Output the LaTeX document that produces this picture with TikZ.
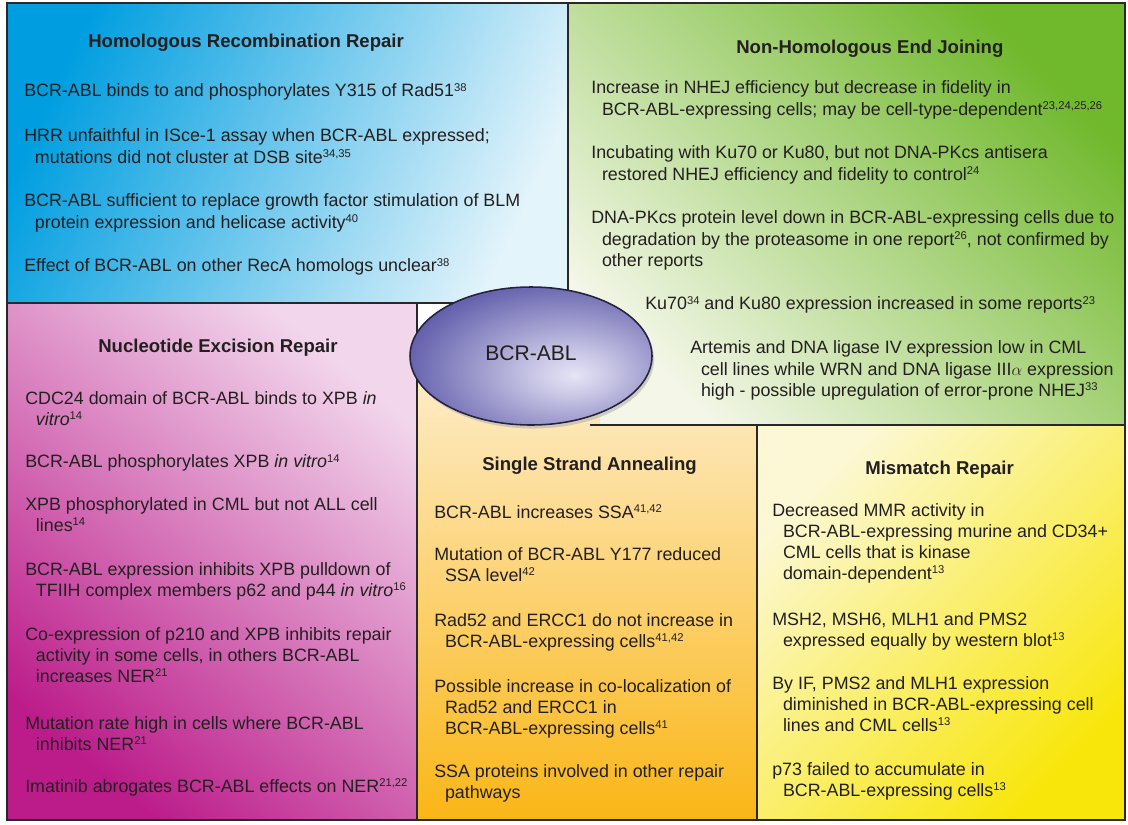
\documentclass[tikz,border=0pt]{standalone}
\usepackage{fontspec}
\setmainfont{Liberation Sans}
\usetikzlibrary{shadows}

\newcommand{\itemfont}{\fontsize{12.7pt}{14.94pt}\selectfont}
\newcommand{\headfont}{\fontsize{13.2pt}{15.5pt}\selectfont\bfseries}
\newcommand{\bcrfont}{\fontsize{15pt}{18pt}\selectfont}
\newcommand{\refsup}[1]{\raisebox{0.3em}{\fontsize{8pt}{8pt}\selectfont #1}}
\newcommand{\indnt}{\hspace*{0.6em}}
\pgfdeclareradialshading[bcrDark,bcrLight]{bcrglow}{\pgfpoint{9bp}{-7bp}}{%
  color(0bp)=(bcrLight); color(8bp)=(bcrLight!80!bcrDark); color(36bp)=(bcrDark); color(100bp)=(bcrDark)}

\begin{document}
\begin{tikzpicture}[x=0.025cm, y=-0.025cm,
  headlbl/.style={font=\headfont, text=inkDark, anchor=base west, inner sep=0pt},
  itemlbl/.style={font=\itemfont, text=inkDark, align=left, anchor=north west, inner sep=0pt},
  boxline/.style={line width=1.4pt, draw=lineDark},
  bcrshape/.style={draw=bcrEdge, line width=1.1pt, shade, shading=bcrglow,
    drop shadow={shadow xshift=1.5pt, shadow yshift=-2.5pt, fill=black!30, opacity=0.6}},
]

%% ── Colours ──────────────────────────────────────────────────────────────────
\definecolor{hrrDark}{RGB}{0,158,224}
\definecolor{hrrLight}{RGB}{228,244,251}
\definecolor{nhejDark}{RGB}{112,184,44}
\definecolor{nhejLight}{RGB}{244,247,232}
\definecolor{nerDark}{RGB}{188,28,138}
\definecolor{nerLight}{RGB}{242,214,236}
\definecolor{ssaLight}{RGB}{254,238,206}
\definecolor{ssaDark}{RGB}{250,182,22}
\definecolor{mmrLight}{RGB}{252,248,214}
\definecolor{mmrDark}{RGB}{248,230,10}
\definecolor{bcrDark}{RGB}{84,80,164}
\definecolor{bcrLight}{RGB}{230,228,246}
\definecolor{bcrEdge}{RGB}{36,34,60}
\definecolor{inkDark}{RGB}{35,31,32}
\definecolor{lineDark}{RGB}{40,40,40}

\useasboundingbox (0,0) rectangle (1128,824);

%% ── Panels ───────────────────────────────────────────────────────────────────
\shade[top color=hrrDark, bottom color=hrrLight, shading angle=65] (7,3) rectangle (568,303);
\shade[top color=nhejDark, bottom color=nhejLight, shading angle=-45] (568,3) rectangle (1125,425);
\shade[top color=nerLight, bottom color=nerDark, shading angle=-40] (7,303) rectangle (417,820);
\shade[top color=ssaLight, bottom color=ssaDark] (417,360) -- (600,360) -- (600,425) -- (757,425)
  -- (757,820) -- (417,820) -- cycle;
\shade[top color=mmrLight, bottom color=mmrDark, shading angle=45] (757,425) rectangle (1125,820);

%% ── Panel dividers ───────────────────────────────────────────────────────────
\draw[boxline] (568,3) -- (568,303);
\draw[boxline] (7,303) -- (568,303);
\draw[boxline] (417,303) -- (417,820);
\draw[boxline] (590,425) -- (1125,425);
\draw[boxline] (757,425) -- (757,820);
\draw[line width=2.1pt, draw=lineDark] (7,3) rectangle (1125,820);

%% ── Centre ellipse ───────────────────────────────────────────────────────────
\path[bcrshape] (531,356) ellipse [x radius=121, y radius=69];
\node[font=\bcrfont, text=inkDark] (bcr) at (531,353) {BCR-ABL};

%% ── Homologous Recombination Repair ──────────────────────────────────────────
\node[headlbl] (hrrHead) at (88,47) {Homologous Recombination Repair};
\node[itemlbl] (hrrA) at (24,82) {\strut BCR-ABL binds to and phosphorylates Y315 of Rad51\refsup{38}};
\node[itemlbl] (hrrB) at (24,127) {\strut HRR unfaithful in ISce-1 assay when BCR-ABL expressed;\\
  \indnt mutations did not cluster at DSB site\refsup{34,35}};
\node[itemlbl] (hrrC) at (24,192) {\strut BCR-ABL sufficient to replace growth factor stimulation of BLM\\
  \indnt protein expression and helicase activity\refsup{40}};
\node[itemlbl] (hrrD) at (24,257) {\strut Effect of BCR-ABL on other RecA homologs unclear\refsup{38}};

%% ── Non-Homologous End Joining ───────────────────────────────────────────────
\node[headlbl] (nhejHead) at (736,53) {Non-Homologous End Joining};
\node[itemlbl] (nhejA) at (591,79) {\strut Increase in NHEJ efficiency but decrease in fidelity in\\
  \indnt BCR-ABL-expressing cells; may be cell-type-dependent\refsup{23,24,25,26}};
\node[itemlbl] (nhejB) at (591,144) {\strut Incubating with Ku70 or Ku80, but not DNA-PKcs antisera\\
  \indnt restored NHEJ efficiency and fidelity to control\refsup{24}};
\node[itemlbl] (nhejC) at (591,209) {\strut DNA-PKcs protein level down in BCR-ABL-expressing cells due to\\
  \indnt degradation by the proteasome in one report\refsup{26}, not confirmed by\\
  \indnt other reports};
\node[itemlbl] (nhejD) at (645,295) {\strut Ku70\refsup{34} and Ku80 expression increased in some reports\refsup{23}};
\node[itemlbl] (nhejE) at (690,339) {\strut Artemis and DNA ligase IV expression low in CML\\
  \indnt cell lines while WRN and DNA ligase III$\alpha$ expression\\
  \indnt high - possible upregulation of error-prone NHEJ\refsup{33}};

%% ── Nucleotide Excision Repair ───────────────────────────────────────────────
\node[headlbl] (nerHead) at (98,352) {Nucleotide Excision Repair};
\node[itemlbl] (nerA) at (25,389) {\strut CDC24 domain of BCR-ABL binds to XPB \textit{in}\\
  \indnt\textit{vitro}\refsup{14}};
\node[itemlbl] (nerB) at (25,453) {\strut BCR-ABL phosphorylates XPB \textit{in vitro}\refsup{14}};
\node[itemlbl] (nerC) at (25,495) {\strut XPB phosphorylated in CML but not ALL cell\\
  \indnt lines\refsup{14}};
\node[itemlbl] (nerD) at (25,560) {\strut BCR-ABL expression inhibits XPB pulldown of\\
  \indnt TFIIH complex members p62 and p44 \textit{in vitro}\refsup{16}};
\node[itemlbl] (nerE) at (25,625) {\strut Co-expression of p210 and XPB inhibits repair\\
  \indnt activity in some cells, in others BCR-ABL\\
  \indnt increases NER\refsup{21}};
\node[itemlbl] (nerF) at (25,714) {\strut Mutation rate high in cells where BCR-ABL\\
  \indnt inhibits NER\refsup{21}};
\node[itemlbl] (nerG) at (25,777) {\strut Imatinib abrogates BCR-ABL effects on NER\refsup{21,22}};

%% ── Single Strand Annealing ──────────────────────────────────────────────────
\node[headlbl] (ssaHead) at (482,470) {Single Strand Annealing};
\node[itemlbl] (ssaA) at (434,503) {\strut BCR-ABL increases SSA\refsup{41,42}};
\node[itemlbl] (ssaB) at (434,545) {\strut Mutation of BCR-ABL Y177 reduced\\
  \indnt SSA level\refsup{42}};
\node[itemlbl] (ssaC) at (434,611) {\strut Rad52 and ERCC1 do not increase in\\
  \indnt BCR-ABL-expressing cells\refsup{41,42}};
\node[itemlbl] (ssaD) at (434,677) {\strut Possible increase in co-localization of\\
  \indnt Rad52 and ERCC1 in\\
  \indnt BCR-ABL-expressing cells\refsup{41}};
\node[itemlbl] (ssaE) at (434,762) {\strut SSA proteins involved in other repair\\
  \indnt pathways};

%% ── Mismatch Repair ──────────────────────────────────────────────────────────
\node[headlbl] (mmrHead) at (865,474) {Mismatch Repair};
\node[itemlbl] (mmrA) at (772,501) {\strut Decreased MMR activity in\\
  \indnt BCR-ABL-expressing murine and CD34+\\
  \indnt CML cells that is kinase\\
  \indnt domain-dependent\refsup{13}};
\node[itemlbl] (mmrB) at (772,610) {\strut MSH2, MSH6, MLH1 and PMS2\\
  \indnt expressed equally by western blot\refsup{13}};
\node[itemlbl] (mmrC) at (772,674) {\strut By IF, PMS2 and MLH1 expression\\
  \indnt diminished in BCR-ABL-expressing cell\\
  \indnt lines and CML cells\refsup{13}};
\node[itemlbl] (mmrD) at (772,760) {\strut p73 failed to accumulate in\\
  \indnt BCR-ABL-expressing cells\refsup{13}};

\end{tikzpicture}
\end{document}
